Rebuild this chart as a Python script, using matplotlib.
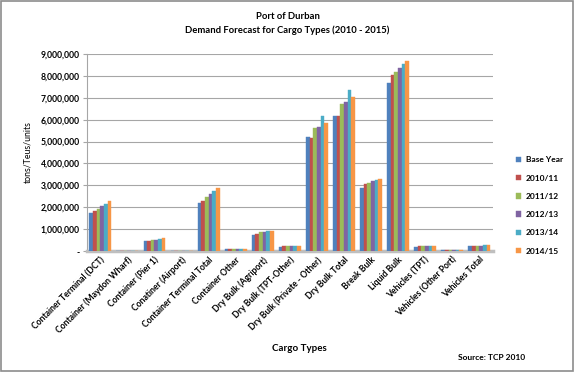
import matplotlib
matplotlib.use("Agg")
import matplotlib.pyplot as plt
import numpy as np
from matplotlib.ticker import FuncFormatter

plt.rcParams['font.family'] = ['Lato', 'DejaVu Sans']

categories = ["Container Terminal (DCT)", "Container (Maydon Wharf)", "Container (Pier 1)",
              "Conatiner (Airport)", "Container Terminal Total", "Container Other",
              "Dry Bulk (Agriport)", "Dry Bulk (TPT-Other)", "Dry Bulk (Private - Other)",
              "Dry Bulk Total", "Break Bulk", "Liquid Bulk", "Vehicles (TPT)",
              "Vehicles (Other Port)", "Vehicles Total"]

series_names = ["Base Year", "2010/11", "2011/12", "2012/13", "2013/14", "2014/15"]

# values per series, one per category
base_year = [1750000, 0, 450000, 0, 2200000, 90000, 750000, 200000, 5200000, 6180000, 2900000, 7670000, 200000, 30000, 220000]
y2010 = [1830000, 0, 470000, 0, 2300000, 95000, 780000, 210000, 5170000, 6180000, 3070000, 8020000, 210000, 30000, 230000]
y2011 = [1930000, 0, 500000, 0, 2450000, 100000, 850000, 210000, 5600000, 6700000, 3120000, 8180000, 220000, 32000, 240000]
y2012 = [2050000, 0, 520000, 0, 2600000, 100000, 880000, 220000, 5680000, 6790000, 3180000, 8350000, 230000, 33000, 250000]
y2013 = [2150000, 0, 550000, 0, 2730000, 110000, 900000, 220000, 6180000, 7350000, 3230000, 8520000, 240000, 34000, 260000]
y2014 = [2270000, 0, 580000, 0, 2880000, 110000, 930000, 230000, 5850000, 7050000, 3270000, 8670000, 250000, 35000, 270000]

colors = ["#4F81BD", "#C0504D", "#9BBB59", "#8064A2", "#4BACC6", "#F79646"]

fig = plt.figure(figsize=(5.75, 3.72), dpi=100)
ax = fig.add_axes([0.151, 0.325, 0.706, 0.53])

data = [base_year, y2010, y2011, y2012, y2013, y2014]
x = np.arange(len(categories))
w = 0.135
for i, (vals, c, name) in enumerate(zip(data, colors, series_names)):
    ax.bar(x + (i - 2.5) * w, vals, width=w, color=c, label=name, edgecolor=c, linewidth=0.3, zorder=3)

ax.set_xlim(-0.5, len(categories) - 0.5)
ax.set_ylim(0, 9000000)
ax.set_yticks(np.arange(0, 9000001, 1000000))
ax.yaxis.set_major_formatter(FuncFormatter(lambda v, p: "-" if v == 0 else f"{int(v):,}"))
ax.grid(axis='y', color='#a6a6a6', linewidth=0.8, zorder=0)
for s in ['top', 'right']:
    ax.spines[s].set_visible(False)
ax.spines['left'].set_color('#a6a6a6')
ax.spines['bottom'].set_color('#bfbfbf')
ax.spines['bottom'].set_linewidth(2.5)
ax.tick_params(axis='y', labelsize=6.2, length=3, color='#a6a6a6', pad=2)
ax.tick_params(axis='x', length=0, pad=3)
for lab in ax.get_yticklabels():
    lab.set_fontweight('bold')
ax.set_xticks(x)
ax.set_xticklabels(categories, rotation=45, ha='right', rotation_mode='anchor', fontsize=6.2, fontweight='bold')

ax.set_ylabel("tons/Teus/units", fontsize=6.3, labelpad=6)
fig.text(0.52, 0.064, "Cargo Types", ha='center', va='center', fontsize=7, fontweight='bold')
fig.text(0.855, 0.038, "Source: TCP 2010", ha='center', va='center', fontsize=6, fontweight='bold')

fig.text(0.5, 0.955, "Port of Durban", ha='center', va='center', fontsize=6.8, fontweight='bold')
fig.text(0.5, 0.918, "Demand Forecast for Cargo Types (2010 - 2015)", ha='center', va='center', fontsize=6.8, fontweight='bold')

leg = fig.legend(loc='upper left', bbox_to_anchor=(0.885, 0.6), frameon=False,
                 handlelength=0.6, handleheight=0.6, handletextpad=0.5, labelspacing=1.35,
                 prop={'weight': 'bold', 'size': 6})

fig.patches.append(plt.Rectangle((0.002, 0.003), 0.995, 0.994, transform=fig.transFigure,
                                 fill=False, edgecolor='#8c8c8c', linewidth=1.2))

fig.savefig("out.png", dpi=100)
